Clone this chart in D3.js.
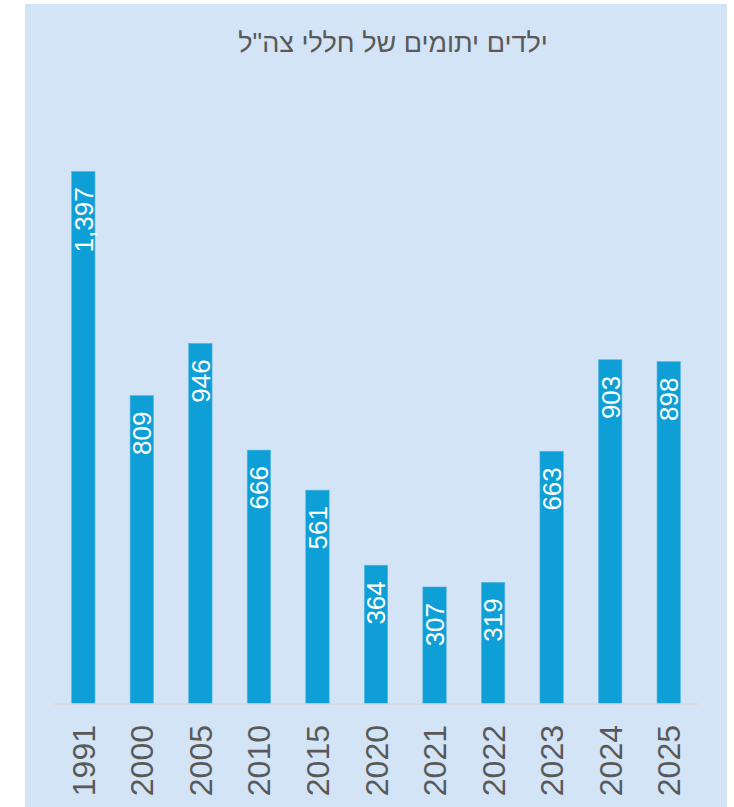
<!DOCTYPE html>
<html>
<head>
<meta charset="utf-8">
<script src="https://cdn.jsdelivr.net/npm/d3@7"></script>
<style>
  html, body { margin: 0; padding: 0; background: #ffffff; }
  svg { display: block; }
  text { font-family: "Liberation Sans", Arial, sans-serif; }
</style>
</head>
<body>
<svg id="chart" width="734" height="807"></svg>
<script>
const title = "ילדים יתומים של חללי צה\"ל";
const years = ["1991", "2000", "2005", "2010", "2015", "2020", "2021", "2022", "2023", "2024", "2025"];
const orphans = [1397, 809, 946, 666, 561, 364, 307, 319, 663, 903, 898];

const svg = d3.select("#chart");
const W = 734, H = 807;

// background panel
svg.append("rect")
  .attr("x", 25).attr("y", 4)
  .attr("width", 702).attr("height", H - 4)
  .attr("fill", "#d3e4f6");

const x = d3.scaleBand()
  .domain(years)
  .range([54, 698])
  .paddingInner(0.6)
  .paddingOuter(0.3);

const y = d3.scaleLinear()
  .domain([0, 1600])
  .range([704, 94]);

const data = years.map((yr, i) => ({ year: yr, value: orphans[i] }));

// title
svg.append("text")
  .attr("x", 393).attr("y", 52)
  .attr("text-anchor", "middle")
  .attr("direction", "rtl")
  .attr("font-size", 27)
  .attr("fill", "#595959")
  .text(title);

// bars
svg.append("g").selectAll("rect")
  .data(data)
  .join("rect")
  .attr("x", d => x(d.year))
  .attr("y", d => y(d.value))
  .attr("width", x.bandwidth())
  .attr("height", d => y(0) - y(d.value))
  .attr("fill", "#0e9fd7")
  .attr("stroke", "#5cb6e4")
  .attr("stroke-width", 0.6);

// baseline axis
const xAxis = d3.axisBottom(x).tickSize(0).tickPadding(0).tickFormat("");
const axisG = svg.append("g").attr("transform", `translate(0,${y(0)})`).call(xAxis);
axisG.select(".domain")
  .attr("d", `M${x.range()[0]},0H${x.range()[1]}`)
  .attr("stroke", "#d9d9d9")
  .attr("stroke-width", 1.5);

// year labels (rotated)
svg.append("g").selectAll("text")
  .data(data)
  .join("text")
  .attr("transform", d => `translate(${x(d.year) + x.bandwidth() / 2},${y(0) + 21}) rotate(-90)`)
  .attr("text-anchor", "end")
  .attr("dy", "0.36em")
  .attr("font-size", 32)
  .attr("fill", "#595959")
  .text(d => d.year);

// value labels inside bars
const fmt = d3.format(",");
svg.append("g").selectAll("text")
  .data(data)
  .join("text")
  .attr("transform", d => `translate(${x(d.year) + x.bandwidth() / 2},${y(d.value) + 16}) rotate(-90)`)
  .attr("text-anchor", "end")
  .attr("dy", "0.36em")
  .attr("font-size", 26)
  .attr("fill", "#ffffff")
  .text(d => fmt(d.value));
</script>
</body>
</html>
